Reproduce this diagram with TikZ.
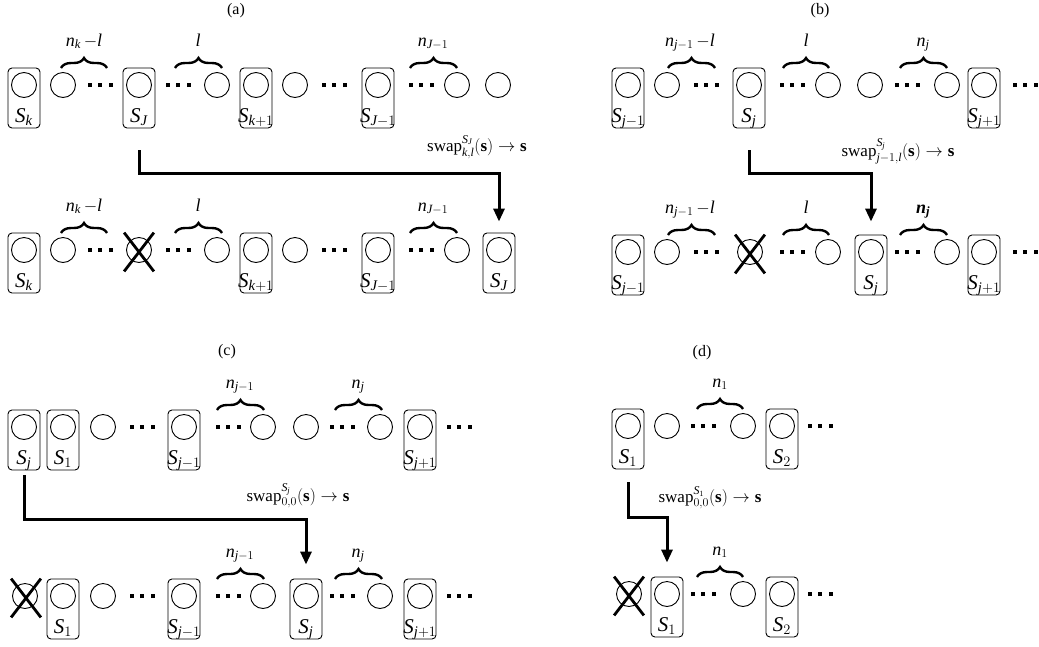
\documentclass[tikz,border=0pt]{standalone}
\usepackage{amsmath}
\usepackage{fontspec}
\setmainfont{Liberation Serif}
\usetikzlibrary{arrows.meta,decorations.pathreplacing,shapes.misc}

% math letters and digits from the text font
\DeclareSymbolFont{serifit}{TU}{\rmdefault}{m}{it}
\DeclareSymbolFont{serifup}{TU}{\rmdefault}{m}{n}
\DeclareSymbolFontAlphabet{\mathrm}{serifup}
\DeclareMathAlphabet{\mathbf}{TU}{\rmdefault}{b}{n}
\DeclareMathAlphabet{\mathbfit}{TU}{\rmdefault}{b}{it}
\DeclareMathSymbol{S}{\mathalpha}{serifit}{`S}
\DeclareMathSymbol{J}{\mathalpha}{serifit}{`J}
\DeclareMathSymbol{j}{\mathalpha}{serifit}{`j}
\DeclareMathSymbol{k}{\mathalpha}{serifit}{`k}
\DeclareMathSymbol{l}{\mathalpha}{serifit}{`l}
\DeclareMathSymbol{n}{\mathalpha}{serifit}{`n}
\DeclareMathSymbol{0}{\mathalpha}{serifup}{`0}
\DeclareMathSymbol{1}{\mathalpha}{serifup}{`1}
\DeclareMathSymbol{2}{\mathalpha}{serifup}{`2}
\DeclareMathSymbol{+}{\mathbin}{serifup}{`+}

% a slot: rounded box with its circle and its label
\newcommand{\boxslot}[4]{%
  \node[slotbox] (#1) at (#2,#3+13) {};
  \node[ball] (#1c) at (#2,#3) {};
  \node[slotlabel] (#1l) at (#2,#3+37) {$#4$};
}
\newcommand{\sqdots}{\rule{4pt}{4pt}\hspace{6.5pt}\rule{4pt}{4pt}\hspace{6.5pt}\rule{4pt}{4pt}}

\begin{document}
\begin{tikzpicture}[
  x=1pt, y=-1pt,
  ball/.style={circle, draw, line width=0.9pt, minimum size=25pt, inner sep=0pt},
  slotbox/.style={rectangle, draw, rounded corners=4pt, line width=0.9pt,
                  minimum width=32pt, minimum height=60pt, inner sep=0pt},
  slotlabel/.style={anchor=base, inner sep=0pt, font=\fontsize{21}{23}\selectfont},
  dotsrow/.style={inner sep=0pt},
  crossmark/.style={cross out, draw, line width=2.8pt, minimum width=27pt,
                    minimum height=36pt, inner sep=0pt},
  curly/.style={decorate, decoration={brace, amplitude=10pt}, line width=2.4pt},
  bracelabel/.style={anchor=base, inner sep=0pt, font=\fontsize{18}{20}\selectfont},
  swaplabel/.style={anchor=base, inner sep=0pt, font=\fontsize{17}{19}\selectfont},
  title/.style={inner sep=0pt, font=\fontsize{16}{18}\selectfont},
  swaparrow/.style={line width=3pt, -{Triangle[length=13pt, width=11pt]}}
]
\useasboundingbox (0,0) rectangle (1039,646);

% ---------------- (a) ----------------
\node[title] (ta) at (236,11) {(a)};

% top row
\boxslot{aSk}{24}{85}{S_k}
\boxslot{aSJ}{139}{85}{S_J}
\boxslot{aSkp}{256}{85}{S_{k+1}}
\boxslot{aSJm}{378}{85}{S_{J-1}}
\foreach \x [count=\i] in {63,217,295,457,498}
  \node[ball] (atb\i) at (\x,85) {};
\foreach \x [count=\i] in {100,178,334,421}
  \node[dotsrow] (atd\i) at (\x,85) {\sqdots};
\draw[curly] (61,68) -- (107,68);
\draw[curly] (175,68) -- (222,68);
\draw[curly] (410,68) -- (457,68);
\node[bracelabel] (atl1) at (84,46) {$n_k\,{-}l$};
\node[bracelabel] (atl2) at (198,46) {$l$};
\node[bracelabel] (atl3) at (433,46) {$n_{J-1}$};

% bottom row
\boxslot{aSkb}{24}{250}{S_k}
\boxslot{aSkpb}{256}{250}{S_{k+1}}
\boxslot{aSJmb}{378}{250}{S_{J-1}}
\boxslot{aSJb}{499}{250}{S_J}
\foreach \x [count=\i] in {63,217,295,457}
  \node[ball] (abb\i) at (\x,250) {};
\foreach \x [count=\i] in {100,178,334,421}
  \node[dotsrow] (abd\i) at (\x,250) {\sqdots};
\node[ball] (abx) at (139,250) {};
\node[crossmark] (abxm) at (139,252) {};
\draw[curly] (61,233) -- (107,233);
\draw[curly] (175,233) -- (222,233);
\draw[curly] (410,233) -- (457,233);
\node[bracelabel] (abl1) at (84,211) {$n_k\,{-}l$};
\node[bracelabel] (abl2) at (198,211) {$l$};
\node[bracelabel] (abl3) at (433,211) {$n_{J-1}$};

% swap arrow
\coordinate (abend) at (0,173);
\draw[swaparrow, shorten <=22pt, shorten >=11pt]
  (aSJ.south) -- (aSJ.south |- abend) -| (aSJb.north);
\node[swaplabel, anchor=base east] (aswap) at (527,151)
  {$\mathrm{swap}^{S_J}_{k,l}(\mathbf{s})\rightarrow\mathbf{s}$};

% ---------------- (b) ----------------
\node[title] (tb) at (820,11) {(b)};

% top row
\boxslot{bSjm}{628}{85}{S_{j-1}}
\boxslot{bSj}{749}{85}{S_j}
\boxslot{bSjp}{984}{85}{S_{j+1}}
\foreach \x [count=\i] in {667,828,870,947}
  \node[ball] (btb\i) at (\x,85) {};
\foreach \x [count=\i] in {706,792,907,1025}
  \node[dotsrow] (btd\i) at (\x,85) {\sqdots};
\draw[curly] (668,68) -- (715,68);
\draw[curly] (783,68) -- (829,68);
\draw[curly] (900,68) -- (947,68);
\node[bracelabel] (btl1) at (690,46) {$n_{j-1}\,{-}l$};
\node[bracelabel] (btl2) at (806,46) {$l$};
\node[bracelabel] (btl3) at (923,46) {$n_j$};

% bottom row
\boxslot{bSjmb}{628}{252}{S_{j-1}}
\boxslot{bSjb}{871}{252}{S_j}
\boxslot{bSjpb}{984}{252}{S_{j+1}}
\foreach \x [count=\i] in {667,828,947}
  \node[ball] (bbb\i) at (\x,252) {};
\foreach \x [count=\i] in {706,792,907,1025}
  \node[dotsrow] (bbd\i) at (\x,252) {\sqdots};
\node[ball] (bbx) at (750,252) {};
\node[crossmark] (bbxm) at (750,254) {};
\draw[curly] (668,235) -- (715,235);
\draw[curly] (783,235) -- (829,235);
\draw[curly] (900,235) -- (947,235);
\node[bracelabel] (bbl1) at (690,213) {$n_{j-1}\,{-}l$};
\node[bracelabel] (bbl2) at (806,213) {$l$};
\node[bracelabel] (bbl3) at (923,213) {$\mathbfit{n}_{\mathbfit{j}}$};

% swap arrow
\coordinate (bbend) at (0,173);
\draw[swaparrow, shorten <=22pt, shorten >=13pt]
  (bSj.south) -- (bSj.south |- bbend) -| (bSjb.north);
\node[swaplabel] (bswap) at (898,156)
  {$\mathrm{swap}^{S_j}_{j-1,l}(\mathbf{s})\rightarrow\mathbf{s}$};

% ---------------- (c) ----------------
\node[title] (tc) at (227,352) {(c)};

% top row
\boxslot{cSj}{24}{427}{S_j}
\boxslot{cS1}{63}{427}{S_1}
\boxslot{cSjm}{184}{427}{S_{j-1}}
\boxslot{cSjp}{420}{427}{S_{j+1}}
\foreach \x [count=\i] in {103,263,306,380}
  \node[ball] (ctb\i) at (\x,427) {};
\foreach \x [count=\i] in {142,228,342,459}
  \node[dotsrow] (ctd\i) at (\x,427) {\sqdots};
\draw[curly] (217,410) -- (264,410);
\draw[curly] (335,410) -- (382,410);
\node[bracelabel] (ctl1) at (240,388) {$n_{j-1}$};
\node[bracelabel] (ctl2) at (358,388) {$n_j$};

% bottom row
\boxslot{cS1b}{63}{596}{S_1}
\boxslot{cSjmb}{184}{596}{S_{j-1}}
\boxslot{cSjb}{306}{596}{S_j}
\boxslot{cSjpb}{420}{596}{S_{j+1}}
\foreach \x [count=\i] in {103,263,380}
  \node[ball] (cbb\i) at (\x,596) {};
\foreach \x [count=\i] in {142,228,342,459}
  \node[dotsrow] (cbd\i) at (\x,596) {\sqdots};
\node[ball] (cbx) at (25,596) {};
\node[crossmark] (cbxm) at (26,598) {};
\draw[curly] (217,579) -- (264,579);
\draw[curly] (335,579) -- (382,579);
\node[bracelabel] (cbl1) at (240,557) {$n_{j-1}$};
\node[bracelabel] (cbl2) at (358,557) {$n_j$};

% swap arrow
\coordinate (cbend) at (0,519);
\draw[swaparrow, shorten <=5pt, shorten >=14pt]
  (cSj.south) -- (cSj.south |- cbend) -| (cSjb.north);
\node[swaplabel] (cswap) at (298,501)
  {$\mathrm{swap}^{S_j}_{0,0}(\mathbf{s})\rightarrow\mathbf{s}$};

% ---------------- (d) ----------------
\node[title] (td) at (702,353) {(d)};

% top row
\boxslot{dS1}{628}{426}{S_1}
\boxslot{dS2}{782}{426}{S_2}
\foreach \x [count=\i] in {667,743}
  \node[ball] (dtb\i) at (\x,426) {};
\foreach \x [count=\i] in {703,820}
  \node[dotsrow] (dtd\i) at (\x,426) {\sqdots};
\draw[curly] (697,409) -- (743,409);
\node[bracelabel] (dtl1) at (720,387) {$n_1$};

% bottom row
\boxslot{dS1b}{667}{594}{S_1}
\boxslot{dS2b}{782}{594}{S_2}
\node[ball] (dbb1) at (743,594) {};
\foreach \x [count=\i] in {703,820}
  \node[dotsrow] (dbd\i) at (\x,594) {\sqdots};
\node[ball] (dbx) at (629,594) {};
\node[crossmark] (dbxm) at (629,596) {};
\draw[curly] (697,577) -- (743,577);
\node[bracelabel] (dbl1) at (720,555) {$n_1$};

% swap arrow
\coordinate (dbend) at (0,517);
\draw[swaparrow, shorten <=13pt, shorten >=14pt]
  (dS1.south) -- (dS1.south |- dbend) -| (dS1b.north);
\node[swaplabel] (dswap) at (710,502)
  {$\mathrm{swap}^{S_1}_{0,0}(\mathbf{s})\rightarrow\mathbf{s}$};

\end{tikzpicture}
\end{document}
